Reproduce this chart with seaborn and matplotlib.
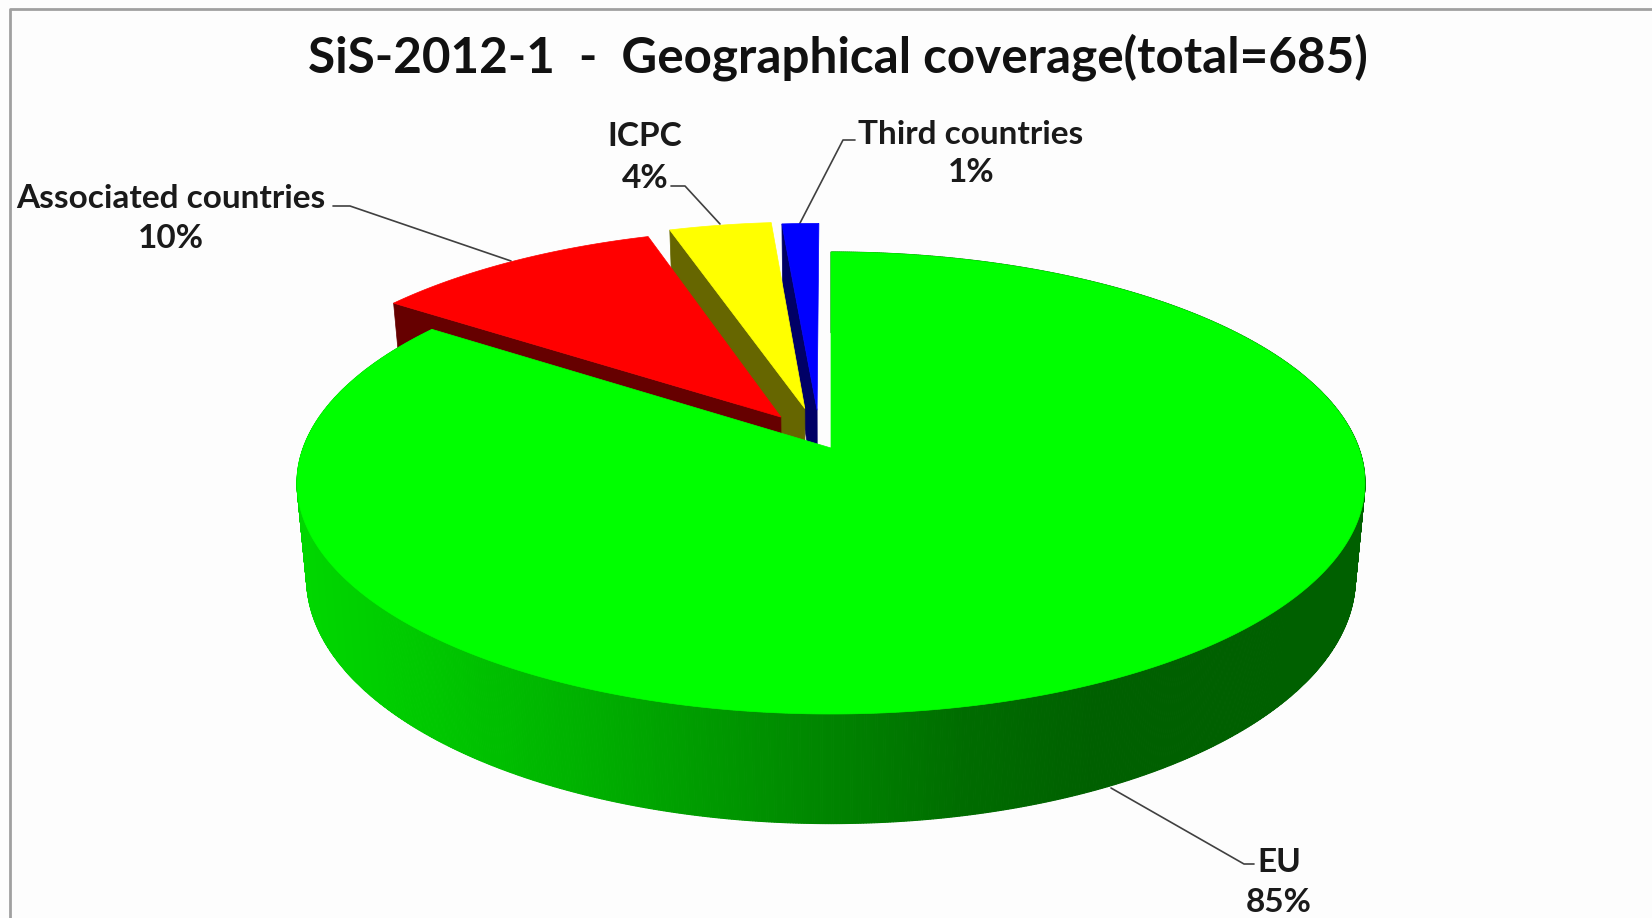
import numpy as np
import matplotlib
matplotlib.use("Agg")
import matplotlib.pyplot as plt
from matplotlib.patches import Polygon
import seaborn as sns

# ---- data ----
categories = ["EU", "Associated countries", "ICPC", "Third countries"]
values = [580, 71, 25, 9]
title = "SiS-2012-1  -  Geographical coverage(total=685)"

# ---- styles ----
top_colors = sns.color_palette(["#00FF00", "#FF0000", "#FFFF00", "#0000FF"])
wall_colors = sns.color_palette(["#006000", "#660000", "#666600", "#000066"])
wall_shades = sns.blend_palette(["#00D800", "#00C800", "#00B400", "#009C00", "#008400",
                                 "#006C00", "#006000", "#006000", "#006000"], 256)

sns.set_theme(style="white")
plt.rcParams["font.family"] = ["Lato", "DejaVu Sans"]

fig = plt.figure(figsize=(16.52, 9.18), dpi=100, facecolor="#FDFDFD")
ax = fig.add_axes([0, 0, 1, 1])
ax.set_xlim(0, 1652)
ax.set_ylim(918, 0)
ax.axis("off")

# projection of the tilted disc onto the page
CX, CY, R, A, P, DEPTH, SHRINK = 831, 448, 527.8, 225.7, 0.1515, 93, 0.018
# pull-out of each slice on the disc (EU stays put)
offsets = [(0, 0), (-0.097, -0.140), (-0.051, -0.180), (-0.027, -0.172)]


def project(u, v, z=0.0):
    s = 1 / (1 - P * v)
    return np.column_stack([CX + R * u * s * (1 - SHRINK * z), CY + A * v * s + DEPTH * z * s])


fractions = np.array(values) / np.sum(values)
edges = np.concatenate([[0], np.cumsum(fractions)]) * 2 * np.pi


def rim(a0, a1, off, n=300):
    t = np.linspace(a0, a1, n)
    # angle runs clockwise from 12 o'clock; v positive towards the viewer
    return np.sin(t) + off[0], -np.cos(t) + off[1]


def radial_wall(angle, off):
    u = np.array([off[0], off[0] + np.sin(angle)])
    v = np.array([off[1], off[1] - np.cos(angle)])
    return np.vstack([project(u, v), project(u[::-1], v[::-1], 1.0)])


# back slices first, from the blue one towards the red one, then the large slice
for i in [3, 2, 1]:
    off = offsets[i]
    ax.add_patch(Polygon(radial_wall(edges[i], off), closed=True,
                         fc=wall_colors[i], ec=wall_colors[i], lw=0.5, zorder=2 + (3 - i) * 2))
    u, v = rim(edges[i], edges[i + 1], off)
    pts = np.vstack([project(np.array([off[0]]), np.array([off[1]])), project(u, v)])
    ax.add_patch(Polygon(pts, closed=True, fc=top_colors[i], ec=top_colors[i], lw=0.5,
                         zorder=3 + (3 - i) * 2))

# outer wall of the large slice, shaded by its position across the page
theta = np.linspace(edges[0], edges[1], 1200)
for k in range(len(theta) - 1):
    u, v = rim(theta[k], theta[k + 1], (0, 0), n=3)
    poly = np.vstack([project(u, v), project(u[::-1], v[::-1], 1.0)])
    pos = (poly[:, 0].mean() - (CX - R * 1.012)) / (2 * R * 1.012)
    shade = wall_shades[int(np.clip(pos, 0, 0.999) * len(wall_shades))]
    ax.add_patch(Polygon(poly, closed=True, fc=shade, ec=shade, lw=0.8, zorder=10))

u, v = rim(edges[0], edges[1], (0, 0), n=600)
pts = np.vstack([project(np.array([0.0]), np.array([0.0])), project(u, v)])
ax.add_patch(Polygon(pts, closed=True, fc=top_colors[0], ec=top_colors[0], lw=0.5, zorder=11))

# labels and leader lines
label_pos = [(1279, 862, 903), (171, 198, 239), (645, 137, 178), (971, 135, 173)]
leaders = [
    [(1111, 788), (1244, 864), (1254, 864)],
    [(333, 206), (350, 206), (511, 261)],
    [(671, 186), (685, 186), (720, 224)],
    [(855, 140), (843, 140), (799, 225)],
]
for i, name in enumerate(categories):
    x, y1, y2 = label_pos[i]
    ax.text(x, y1, name, ha="center", va="center", fontsize=24, fontweight="bold",
            color="#1A1A1A", zorder=20)
    ax.text(x, y2, f"{fractions[i] * 100:.0f}%", ha="center", va="center", fontsize=24,
            fontweight="bold", color="#1A1A1A", zorder=20)
    xs, ys = zip(*leaders[i])
    ax.plot(xs, ys, color="#404040", lw=1.2, zorder=1)

ax.text(838, 57, title, ha="center", va="center", fontsize=35.6, fontweight="bold",
        color="#111111", zorder=20)

# chart frame
ax.plot([10, 10, 1652], [918, 9, 9], color="#A0A0A0", lw=2, zorder=21)

fig.savefig("out.png", dpi=100, facecolor=fig.get_facecolor())
